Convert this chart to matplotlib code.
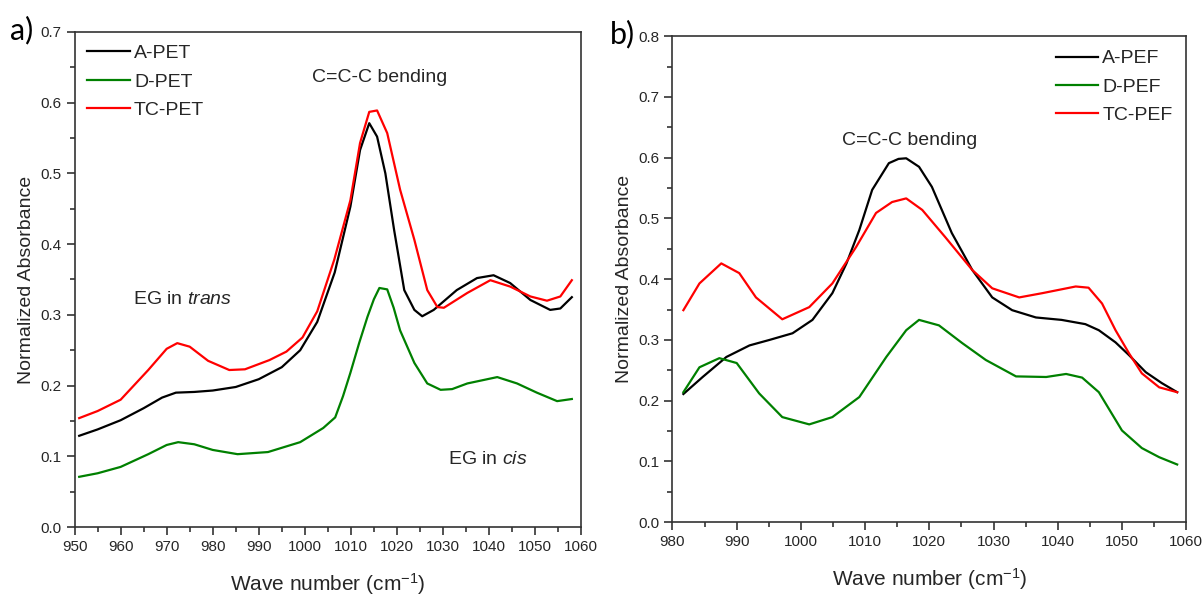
import matplotlib
matplotlib.use("Agg")
import matplotlib.pyplot as plt
from matplotlib.ticker import MultipleLocator, FormatStrFormatter

plt.rcParams['font.family'] = ['Liberation Sans Narrow', 'Liberation Sans', 'DejaVu Sans']
plt.rcParams['mathtext.fontset'] = 'custom'
plt.rcParams['mathtext.rm'] = 'Liberation Sans'
plt.rcParams['mathtext.it'] = 'Liberation Sans:italic'

# ---- panel a) PET ----
a_pet_x = [951, 955, 960, 965, 969, 972, 976, 980, 985, 990, 995, 999, 1002.7, 1006.5,
           1009.9, 1012, 1014, 1015.7, 1017.5, 1019.4, 1021.6, 1023.8, 1025.5, 1028,
           1033, 1037.4, 1041, 1044.6, 1049, 1053.3, 1055.5, 1058]
a_pet_y = [0.129, 0.138, 0.151, 0.168, 0.183, 0.19, 0.191, 0.193, 0.198, 0.209, 0.226, 0.25,
           0.29, 0.36, 0.453, 0.533, 0.571, 0.552, 0.50, 0.42, 0.335, 0.307, 0.298, 0.307,
           0.335, 0.352, 0.356, 0.345, 0.321, 0.307, 0.309, 0.325]

d_pet_x = [951, 955, 960, 966, 970, 972.5, 976, 980, 985.4, 992, 999, 1004, 1006.6, 1008.3,
           1009.9, 1011.8, 1013.6, 1015, 1016.2, 1017.9, 1019.3, 1020.7, 1023.8, 1026.6, 1029.5,
           1032, 1035.3, 1041.8, 1046.1, 1050.4, 1054.8, 1058]
d_pet_y = [0.071, 0.076, 0.085, 0.103, 0.116, 0.12, 0.117, 0.109, 0.103, 0.106, 0.12, 0.14,
           0.155, 0.185, 0.218, 0.26, 0.297, 0.322, 0.338, 0.336, 0.31, 0.278, 0.232, 0.203,
           0.194, 0.195, 0.203, 0.212, 0.203, 0.19, 0.178, 0.181]

tc_pet_x = [951, 955, 960, 966, 970, 972.3, 975, 979, 983.6, 987, 992.3, 996, 999.5, 1002.7,
            1006.4, 1009.9, 1012, 1014, 1015.7, 1017.9, 1020.7, 1023.8, 1026.6, 1028.8,
            1030.2, 1035.3, 1040.3, 1044.6, 1049, 1052.6, 1055.5, 1058]
tc_pet_y = [0.154, 0.164, 0.18, 0.222, 0.252, 0.26, 0.255, 0.235, 0.222, 0.223, 0.236, 0.248,
            0.268, 0.305, 0.378, 0.462, 0.543, 0.587, 0.589, 0.557, 0.477, 0.406, 0.335,
            0.311, 0.31, 0.331, 0.349, 0.34, 0.326, 0.32, 0.326, 0.349]

# ---- panel b) PEF ----
a_pef_x = [981.7, 984.7, 988.4, 992, 995.1, 998.7, 1001.8, 1004.9, 1007.1, 1009.1, 1011.1,
           1013.7, 1015.2, 1016.4, 1018.4, 1020.4, 1023.5, 1026.7, 1029.8, 1032.9, 1036.6,
           1040.6, 1044.3, 1046.4, 1049, 1051.1, 1053.7, 1056.2, 1058.6]
a_pef_y = [0.211, 0.239, 0.272, 0.291, 0.30, 0.311, 0.333, 0.377, 0.426, 0.481, 0.547,
           0.591, 0.598, 0.599, 0.585, 0.552, 0.476, 0.415, 0.37, 0.349, 0.337,
           0.333, 0.326, 0.316, 0.296, 0.275, 0.247, 0.229, 0.214]

d_pef_x = [981.7, 984.2, 987.3, 990, 993.5, 997.1, 1001.3, 1004.9, 1009.1, 1013.3, 1016.4,
           1018.4, 1021.5, 1025.1, 1028.8, 1033.5, 1038.2, 1041.3, 1043.8, 1046.4, 1050,
           1053.1, 1055.8, 1058.6]
d_pef_y = [0.214, 0.255, 0.27, 0.262, 0.212, 0.173, 0.161, 0.173, 0.206, 0.272, 0.316,
           0.333, 0.324, 0.295, 0.267, 0.24, 0.239, 0.244, 0.238, 0.214, 0.151,
           0.122, 0.107, 0.095]

tc_pef_x = [981.7, 984.2, 987.6, 990.4, 993, 997.1, 1001.3, 1004.9, 1008.6, 1011.7, 1014.2,
            1016.4, 1018.9, 1022.5, 1026.7, 1029.8, 1034, 1037.6, 1042.8, 1044.8, 1046.9,
            1049, 1051.1, 1053.1, 1055.8, 1058.6]
tc_pef_y = [0.349, 0.393, 0.426, 0.41, 0.37, 0.334, 0.354, 0.393, 0.453, 0.509, 0.527,
            0.533, 0.514, 0.469, 0.415, 0.385, 0.37, 0.377, 0.388, 0.386, 0.36,
            0.316, 0.278, 0.245, 0.222, 0.214]

colors = ['black', '#008000', '#ff0000']
TXT = '#262626'


def style_axes(ax, xlim, xmajor, ylim):
    ax.set_xlim(*xlim)
    ax.set_ylim(*ylim)
    ax.xaxis.set_major_locator(MultipleLocator(xmajor))
    ax.xaxis.set_minor_locator(MultipleLocator(xmajor / 2))
    ax.yaxis.set_major_locator(MultipleLocator(0.1))
    ax.yaxis.set_minor_locator(MultipleLocator(0.05))
    ax.yaxis.set_major_formatter(FormatStrFormatter('%.1f'))
    ax.tick_params(which='major', direction='out', length=6, width=1.2,
                   labelsize=11, colors='#333333', labelcolor=TXT)
    ax.tick_params(which='minor', direction='out', length=3.5, width=1.2, colors='#333333')
    ax.tick_params(top=False, right=False, which='both')
    for s in ax.spines.values():
        s.set_linewidth(1.2)
        s.set_color('#333333')
    ax.set_xlabel('Wave number (cm$^{-1}$)', fontsize=15, color=TXT, labelpad=12)
    ax.set_ylabel('Normalized Absorbance', fontsize=14, color=TXT, labelpad=4)


fig = plt.figure(figsize=(12.03, 6.03), dpi=100)

ax1 = fig.add_axes([0.062, 0.126, 0.421, 0.821])
ax1.plot(a_pet_x, a_pet_y, color=colors[0], lw=1.6, label='A-PET')
ax1.plot(d_pet_x, d_pet_y, color=colors[1], lw=1.6, label='D-PET')
ax1.plot(tc_pet_x, tc_pet_y, color=colors[2], lw=1.6, label='TC-PET')
style_axes(ax1, (950, 1060), 10, (0.0, 0.7))
ax1.legend(loc='upper left', frameon=False, fontsize=14, handlelength=2.2,
           handletextpad=0.2, labelspacing=0.55, borderaxespad=0.25,
           bbox_to_anchor=(0.0, 1.0), labelcolor=TXT)
ax1.text(1016.3, 0.636, 'C=C-C bending', fontsize=14, color=TXT, ha='center', va='center')
ax1.text(962.6, 0.322, 'EG in $\\it{trans}$', fontsize=14, color=TXT, ha='left', va='center')
ax1.text(1039.8, 0.095, 'EG in $\\it{cis}$', fontsize=14, color=TXT, ha='center', va='center')

ax2 = fig.add_axes([0.559, 0.134, 0.427, 0.806])
ax2.plot(a_pef_x, a_pef_y, color=colors[0], lw=1.6, label='A-PEF')
ax2.plot(d_pef_x, d_pef_y, color=colors[1], lw=1.6, label='D-PEF')
ax2.plot(tc_pef_x, tc_pef_y, color=colors[2], lw=1.6, label='TC-PEF')
style_axes(ax2, (980, 1060), 10, (0.0, 0.8))
ax2.legend(loc='upper right', frameon=False, fontsize=14, handlelength=2.2,
           handletextpad=0.2, labelspacing=0.55, borderaxespad=0.3, labelcolor=TXT)
ax2.text(1017.0, 0.629, 'C=C-C bending', fontsize=14, color=TXT, ha='center', va='center')

fig.text(0.008, 0.935, 'a)', fontsize=22, color='black', family=['Lato', 'DejaVu Sans'])
fig.text(0.507, 0.928, 'b)', fontsize=22, color='black', family=['Lato', 'DejaVu Sans'])

fig.savefig('out.png', dpi=100)
